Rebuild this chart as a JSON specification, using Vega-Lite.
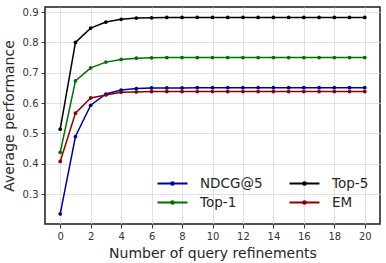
{
  "$schema": "https://vega.github.io/schema/vega-lite/v6.json",
  "autosize": "none",
  "width": 335,
  "height": 217,
  "padding": {"left": 45, "top": 7, "right": 6, "bottom": 39},
  "background": "white",
  "config": {
    "font": "DejaVu Sans",
    "view": {"stroke": "#1a1a1a", "strokeWidth": 1.5},
    "axis": {
      "domain": false,
      "grid": true,
      "gridColor": "#d9d9d9",
      "gridWidth": 0.8,
      "tickColor": "#333333",
      "tickSize": 4,
      "labelFont": "DejaVu Sans",
      "labelFontSize": 10,
      "labelColor": "#333333",
      "titleFont": "DejaVu Sans",
      "titleFontSize": 14,
      "titleFontWeight": "normal",
      "titleColor": "#262626"
    }
  },
  "data": {
    "values": [
      {"q": 0, "m": "NDCG@5", "v": 0.235}, {"q": 1, "m": "NDCG@5", "v": 0.490}, {"q": 2, "m": "NDCG@5", "v": 0.593}, {"q": 3, "m": "NDCG@5", "v": 0.630}, {"q": 4, "m": "NDCG@5", "v": 0.643}, {"q": 5, "m": "NDCG@5", "v": 0.648}, {"q": 6, "m": "NDCG@5", "v": 0.650}, {"q": 7, "m": "NDCG@5", "v": 0.650}, {"q": 8, "m": "NDCG@5", "v": 0.650}, {"q": 9, "m": "NDCG@5", "v": 0.651}, {"q": 10, "m": "NDCG@5", "v": 0.651}, {"q": 11, "m": "NDCG@5", "v": 0.651}, {"q": 12, "m": "NDCG@5", "v": 0.651}, {"q": 13, "m": "NDCG@5", "v": 0.651}, {"q": 14, "m": "NDCG@5", "v": 0.651}, {"q": 15, "m": "NDCG@5", "v": 0.651}, {"q": 16, "m": "NDCG@5", "v": 0.651}, {"q": 17, "m": "NDCG@5", "v": 0.651}, {"q": 18, "m": "NDCG@5", "v": 0.651}, {"q": 19, "m": "NDCG@5", "v": 0.651}, {"q": 20, "m": "NDCG@5", "v": 0.651},
      {"q": 0, "m": "Top-1", "v": 0.438}, {"q": 1, "m": "Top-1", "v": 0.673}, {"q": 2, "m": "Top-1", "v": 0.716}, {"q": 3, "m": "Top-1", "v": 0.735}, {"q": 4, "m": "Top-1", "v": 0.744}, {"q": 5, "m": "Top-1", "v": 0.748}, {"q": 6, "m": "Top-1", "v": 0.749}, {"q": 7, "m": "Top-1", "v": 0.750}, {"q": 8, "m": "Top-1", "v": 0.750}, {"q": 9, "m": "Top-1", "v": 0.750}, {"q": 10, "m": "Top-1", "v": 0.750}, {"q": 11, "m": "Top-1", "v": 0.750}, {"q": 12, "m": "Top-1", "v": 0.750}, {"q": 13, "m": "Top-1", "v": 0.750}, {"q": 14, "m": "Top-1", "v": 0.750}, {"q": 15, "m": "Top-1", "v": 0.750}, {"q": 16, "m": "Top-1", "v": 0.750}, {"q": 17, "m": "Top-1", "v": 0.750}, {"q": 18, "m": "Top-1", "v": 0.750}, {"q": 19, "m": "Top-1", "v": 0.750}, {"q": 20, "m": "Top-1", "v": 0.750},
      {"q": 0, "m": "Top-5", "v": 0.514}, {"q": 1, "m": "Top-5", "v": 0.800}, {"q": 2, "m": "Top-5", "v": 0.847}, {"q": 3, "m": "Top-5", "v": 0.867}, {"q": 4, "m": "Top-5", "v": 0.876}, {"q": 5, "m": "Top-5", "v": 0.880}, {"q": 6, "m": "Top-5", "v": 0.881}, {"q": 7, "m": "Top-5", "v": 0.882}, {"q": 8, "m": "Top-5", "v": 0.882}, {"q": 9, "m": "Top-5", "v": 0.882}, {"q": 10, "m": "Top-5", "v": 0.882}, {"q": 11, "m": "Top-5", "v": 0.882}, {"q": 12, "m": "Top-5", "v": 0.882}, {"q": 13, "m": "Top-5", "v": 0.882}, {"q": 14, "m": "Top-5", "v": 0.882}, {"q": 15, "m": "Top-5", "v": 0.882}, {"q": 16, "m": "Top-5", "v": 0.882}, {"q": 17, "m": "Top-5", "v": 0.882}, {"q": 18, "m": "Top-5", "v": 0.882}, {"q": 19, "m": "Top-5", "v": 0.882}, {"q": 20, "m": "Top-5", "v": 0.882},
      {"q": 0, "m": "EM", "v": 0.408}, {"q": 1, "m": "EM", "v": 0.567}, {"q": 2, "m": "EM", "v": 0.617}, {"q": 3, "m": "EM", "v": 0.627}, {"q": 4, "m": "EM", "v": 0.636}, {"q": 5, "m": "EM", "v": 0.637}, {"q": 6, "m": "EM", "v": 0.638}, {"q": 7, "m": "EM", "v": 0.638}, {"q": 8, "m": "EM", "v": 0.638}, {"q": 9, "m": "EM", "v": 0.638}, {"q": 10, "m": "EM", "v": 0.638}, {"q": 11, "m": "EM", "v": 0.638}, {"q": 12, "m": "EM", "v": 0.638}, {"q": 13, "m": "EM", "v": 0.638}, {"q": 14, "m": "EM", "v": 0.638}, {"q": 15, "m": "EM", "v": 0.638}, {"q": 16, "m": "EM", "v": 0.638}, {"q": 17, "m": "EM", "v": 0.638}, {"q": 18, "m": "EM", "v": 0.638}, {"q": 19, "m": "EM", "v": 0.638}, {"q": 20, "m": "EM", "v": 0.638}
    ]
  },
  "mark": {"type": "line", "strokeWidth": 1.5, "point": {"filled": true, "size": 14}},
  "encoding": {
    "x": {
      "field": "q", "type": "quantitative",
      "scale": {"domain": [-1, 21], "nice": false, "zero": false},
      "axis": {"values": [0, 2, 4, 6, 8, 10, 12, 14, 16, 18, 20], "title": "Number of query refinements", "titlePadding": 5, "labelPadding": 3}
    },
    "y": {
      "field": "v", "type": "quantitative",
      "scale": {"domain": [0.202, 0.9165], "nice": false, "zero": false},
      "axis": {"values": [0.3, 0.4, 0.5, 0.6, 0.7, 0.8, 0.9], "format": ".1f", "title": "Average performance", "titlePadding": 6, "labelPadding": 3}
    },
    "color": {
      "field": "m", "type": "nominal",
      "scale": {"domain": ["NDCG@5", "Top-1", "Top-5", "EM"], "range": ["#0000a0", "#007000", "#000000", "#8b0000"]},
      "legend": {
        "title": null,
        "orient": "none",
        "legendX": 119,
        "legendY": 168,
        "columns": 2,
        "padding": 0,
        "columnPadding": 22,
        "rowPadding": 4,
        "symbolType": "M-2,0H2M-0.18,0A0.18,0.18 0 1,0 0.18,0A0.18,0.18 0 1,0 -0.18,0Z",
        "symbolSize": 225,
        "symbolStrokeWidth": 2,
        "symbolOpacity": 1,
        "labelOffset": 19,
        "labelFont": "DejaVu Sans",
        "labelFontSize": 13.5,
        "labelColor": "#262626"
      }
    }
  }
}
